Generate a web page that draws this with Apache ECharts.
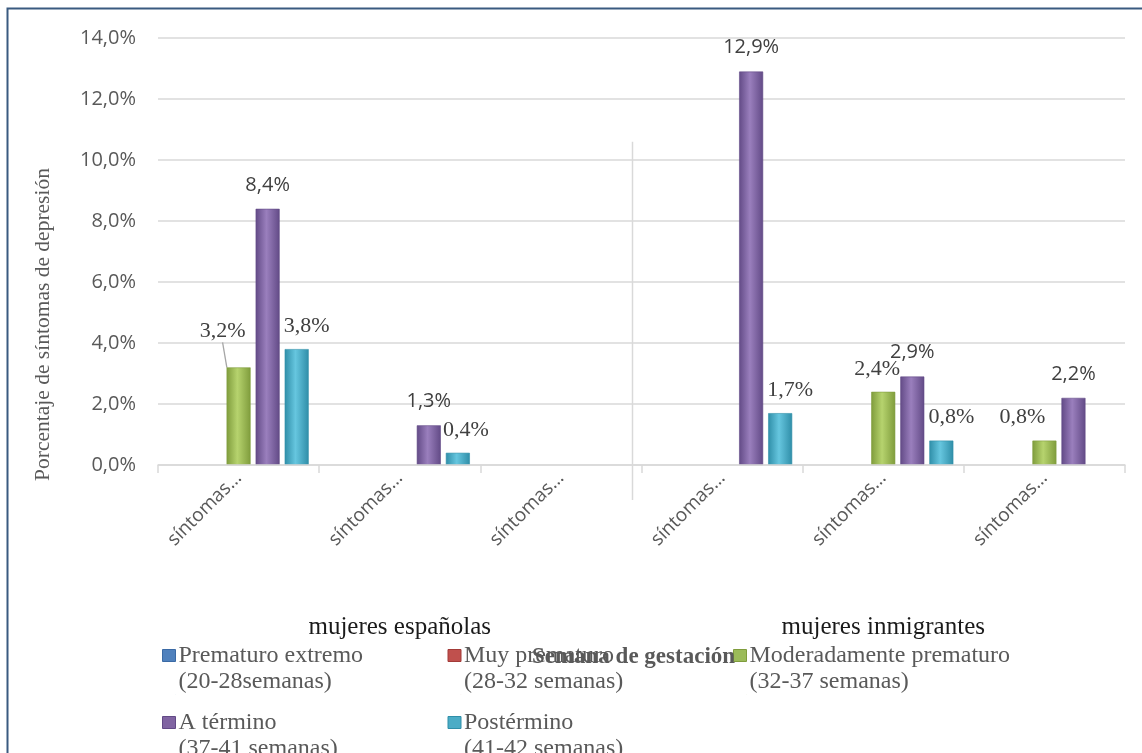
<!DOCTYPE html>
<html><head><meta charset="utf-8">
<script src="https://cdn.jsdelivr.net/npm/echarts@6/dist/echarts.min.js"></script>
<style>html,body{margin:0;padding:0;background:#fff}#c{width:1142px;height:753px}</style>
</head><body><div id="c"></div>
<script>
// ---- data ----
const categories = ['síntomas…', 'síntomas…', 'síntomas…', 'síntomas…', 'síntomas…', 'síntomas…'];
const groups = ['mujeres españolas', 'mujeres inmigrantes'];
const seriesNames = [
  'Prematuro extremo\n(20-28semanas)',
  'Muy prematuro\n(28-32 semanas)',
  'Moderadamente prematuro\n(32-37 semanas)',
  'A término\n(37-41 semanas)',
  'Postérmino\n(41-42 semanas)'
];
const prematuroExtremo = [null, null, null, null, null, null];
const muyPrematuro = [null, null, null, null, null, null];
const moderadamentePrematuro = [3.2, null, null, null, 2.4, 0.8];
const aTermino = [8.4, 1.3, null, 12.9, 2.9, 2.2];
const postermino = [3.8, 0.4, null, 1.7, 0.8, null];
const yTicks = [0, 2, 4, 6, 8, 10, 12, 14];
const yTitle = 'Porcentaje de síntomas de depresión';
const xTitle = 'Semana de gestación';

// ---- styles ----
const seriesValues = [prematuroExtremo, muyPrematuro, moderadamentePrematuro, aTermino, postermino];
const palette = [
  ['#3a6aa5', '#4F81BD', '#6f9fd8'],
  ['#a33b38', '#C0504D', '#dc6e6a'],
  ['#7f9c3c', '#9BBB59', '#b6d36e'],
  ['#624a86', '#8064A2', '#9a7fbd'],
  ['#2f8ea8', '#4BACC6', '#66c6df']
];
const serif = '"Liberation Serif", "Times New Roman", serif';
const sans = '"Open Sans", "Noto Sans", sans-serif';
const fmt = v => v.toFixed(1).replace('.', ',') + '%';
// label shifts (dx, dy) per series / category index
const labelShift = {
  2: { 0: [-16, -13], 4: [-6, 0], 5: [-22, 0] },
  4: { 0: [10, 0], 1: [8, 0], 3: [10, 0], 4: [10, 0] }
};
const leaderLine = { 2: [0] };

function grad(c) {
  return new echarts.graphic.LinearGradient(0, 0, 1, 0, [
    { offset: 0, color: c[0] },
    { offset: 0.45, color: c[2] },
    { offset: 1, color: c[0] }
  ]);
}

const series = seriesValues.map((vals, si) => ({
  name: seriesNames[si],
  type: 'bar',
  xAxisIndex: 0,
  barGap: '21%',
  barCategoryGap: '13%',
  data: vals.map((v, ci) => ({
    value: v,
    labelLine: { show: (leaderLine[si] || []).indexOf(ci) >= 0, lineStyle: { color: '#a6a6a6', width: 1.3 } }
  })),
  itemStyle: { color: grad(palette[si]), borderColor: palette[si][0], borderWidth: 0.6 },
  label: {
    show: true,
    position: 'top',
    distance: si === 3 ? 14 : 12,
    formatter: p => fmt(p.value),
    color: '#404040',
    fontFamily: si === 3 ? sans : serif,
    fontSize: si === 3 ? 20 : 22
  },
  labelLayout: p => {
    const s = (labelShift[si] || {})[p.dataIndex];
    return s ? { dx: s[0], dy: s[1] } : {};
  }
}));

const chart = echarts.init(document.getElementById('c'), null, { renderer: 'canvas' });
chart.setOption({
  animation: false,
  backgroundColor: '#ffffff',
  grid: { left: 158, right: 17, top: 38, bottom: 288, containLabel: false },
  xAxis: [{
    type: 'category',
    data: categories,
    position: 'bottom',
    axisLine: { lineStyle: { color: '#d9d9d9', width: 1.5 } },
    axisTick: { show: true, length: 8, lineStyle: { color: '#d9d9d9', width: 1.5 } },
    axisLabel: { rotate: 45, margin: 10, color: '#595959', fontFamily: sans, fontSize: 19 },
    name: xTitle,
    nameLocation: 'middle',
    nameGap: 181,
    nameTextStyle: { fontFamily: serif, fontWeight: 'bold', fontSize: 23, color: '#595959', padding: [0, 16, 0, 0] },
    z: 5
  }, {
    type: 'category',
    data: groups,
    position: 'bottom',
    axisLine: { show: false },
    axisTick: { show: false },
    splitLine: { show: false },
    axisLabel: { margin: 150, color: '#1a1a1a', fontFamily: serif, fontSize: 25 }
  }],
  yAxis: {
    type: 'value',
    min: yTicks[0],
    max: yTicks[yTicks.length - 1],
    interval: yTicks[1] - yTicks[0],
    axisLine: { show: false },
    axisTick: { show: false },
    splitLine: { lineStyle: { color: '#d9d9d9', width: 1.5 } },
    axisLabel: { formatter: v => fmt(v), margin: 22, color: '#595959', fontFamily: sans, fontSize: 20 },
    name: yTitle,
    nameLocation: 'middle',
    nameRotate: 90,
    nameGap: 104,
    nameTextStyle: { fontFamily: serif, fontSize: 21.5, color: '#595959', padding: [0, 146, 0, 0] }
  },
  legend: {
    left: 162,
    top: 642,
    padding: 0,
    width: 880,
    itemGap: 14,
    itemWidth: 13,
    itemHeight: 52,
    icon: 'path://M0,0L0.01,0L0,0.01Z M0,7L13,7L13,19L0,19Z M13,52L12.99,52L13,51.99Z',
    textStyle: { fontFamily: serif, fontSize: 24, color: '#595959', lineHeight: 26, width: 255, padding: [0, 0, 0, -2] },
    data: seriesNames.map((n, i) => ({ name: n, itemStyle: { color: palette[i][1], borderColor: palette[i][0], borderWidth: 1 } })),
    selectedMode: false
  },
  series: series
});

// decorative separator between the two groups, outer frame
const px3 = chart.convertToPixel({ xAxisIndex: 0 }, 2);
const px4 = chart.convertToPixel({ xAxisIndex: 0 }, 3);
const sepX = (px3 + px4) / 2 - 9;
const yTop = chart.convertToPixel({ yAxisIndex: 0 }, 10.6);
const yAxisPos = chart.convertToPixel({ yAxisIndex: 0 }, 0);
chart.setOption({
  graphic: [
    { type: 'line', shape: { x1: sepX, y1: yTop, x2: sepX, y2: yAxisPos + 35 }, style: { stroke: '#d9d9d9', lineWidth: 1.5 }, silent: true },
    { type: 'rect', shape: { x: 7.5, y: 8.5, width: 1200, height: 800 }, style: { fill: 'none', stroke: '#3a5a80', lineWidth: 2 }, silent: true }
  ]
});
</script>
</body></html>
